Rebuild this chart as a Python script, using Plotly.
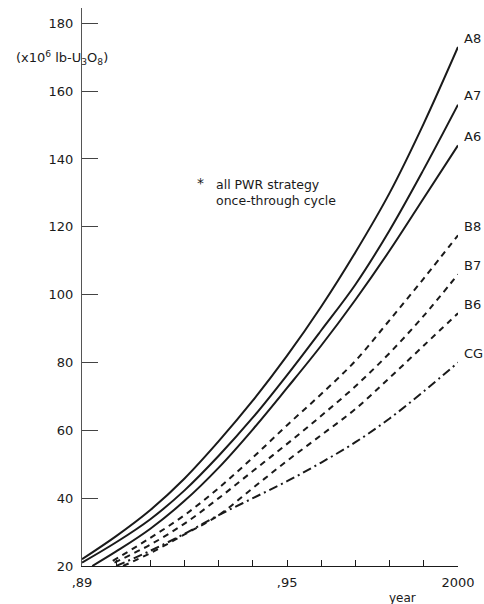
import plotly.graph_objects as go

# ---- data ----
years = [1989, 1990, 1991, 1992, 1993, 1994, 1995, 1996, 1997, 1998, 1999, 2000]

a8_x = [1989, 1990, 1991, 1992, 1993, 1994, 1995, 1996, 1997, 1998, 1999, 2000]
a8_y = [22, 28.8, 36.5, 45.8, 56.8, 68.8, 82, 96.5, 112.5, 130, 150.5, 173]

a7_x = [1989, 1990, 1991, 1992, 1993, 1994, 1995, 1996, 1997, 1998, 1999, 2000]
a7_y = [21, 27, 33.8, 42.3, 52.5, 63.8, 76.3, 89.5, 103, 119, 137, 156]

a6_x = [1989.3, 1990, 1991, 1992, 1993, 1994, 1995, 1996, 1997, 1998, 1999, 2000]
a6_y = [20, 24.3, 31, 39.2, 49, 60.3, 72.5, 85, 98.5, 113, 128.5, 144]

b8_x = [1989.9, 1991, 1992, 1993, 1994, 1995, 1996, 1997, 1998, 1999, 2000]
b8_y = [21.5, 28.3, 35, 43, 52, 61.5, 70.7, 80.5, 92.5, 104.8, 117.5]

b7_x = [1989.95, 1991, 1992, 1993, 1994, 1995, 1996, 1997, 1998, 1999, 2000]
b7_y = [21, 26.3, 32.5, 40, 48, 56, 64.3, 73, 82.8, 93.8, 106]

b6_x = [1990.2, 1991, 1992, 1993, 1994, 1995, 1996, 1997, 1998, 1999, 2000]
b6_y = [20, 23.8, 29.3, 35, 43, 51, 58.6, 66.3, 75.5, 85, 94.5]

cg_x = [1990, 1991, 1992, 1993, 1994, 1995, 1996, 1997, 1998, 1999, 2000]
cg_y = [20, 24.5, 29.5, 35, 40, 45, 50.5, 56.5, 63.5, 71.5, 80]

series_names = ["A8", "A7", "A6", "B8", "B7", "B6", "CG"]
series_x = [a8_x, a7_x, a6_x, b8_x, b7_x, b6_x, cg_x]
series_y = [a8_y, a7_y, a6_y, b8_y, b7_y, b6_y, cg_y]
series_dash = ["solid", "solid", "solid", "6px,5px", "6px,5px", "6px,5px", "9px,4px,2px,4px"]

y_ticks = [20, 40, 60, 80, 100, 120, 140, 160, 180]
x_ticktext = [",89", "", "", "", "", "", ",95", "", "", "", "", "2000"]

FONT = "DejaVu Sans"
INK = "#1a1a1a"

fig = go.Figure()
for name, xs, ys, dash in zip(series_names, series_x, series_y, series_dash):
    fig.add_trace(go.Scatter(
        x=xs, y=ys, mode="lines", name=name,
        line=dict(color=INK, width=2, dash=dash, shape="spline", smoothing=1.0),
        showlegend=False, hoverinfo="skip",
    ))
    fig.add_annotation(
        x=xs[-1], y=ys[-1], xref="x", yref="y", text=name,
        showarrow=False, xanchor="left", yanchor="middle",
        xshift=4, yshift=9, font=dict(family=FONT, size=13, color=INK),
    )

fig.add_annotation(
    x=-0.053, y=0.91, xref="paper", yref="paper",
    text="(x10<sup>6</sup> lb-U<sub>3</sub>O<sub>8</sub>)",
    showarrow=False, xanchor="center", yanchor="middle",
    font=dict(family=FONT, size=13, color=INK),
)
fig.add_annotation(
    x=0.315, y=0.686, xref="paper", yref="paper", text="*",
    showarrow=False, xanchor="center", yanchor="middle",
    font=dict(family=FONT, size=14, color=INK),
)
fig.add_annotation(
    x=0.352, y=0.670, xref="paper", yref="paper",
    text="all PWR strategy<br>once-through cycle", align="left",
    showarrow=False, xanchor="left", yanchor="middle",
    font=dict(family=FONT, size=12.5, color=INK),
)
fig.add_annotation(
    x=0.852, y=-0.057, xref="paper", yref="paper", text="year",
    showarrow=False, xanchor="center", yanchor="middle",
    font=dict(family=FONT, size=12, color=INK),
)

fig.update_xaxes(
    range=[1989, 2000], tickmode="array", tickvals=years, ticktext=x_ticktext,
    ticks="inside", ticklen=6, tickcolor=INK, tickwidth=1,
    showline=True, linecolor=INK, linewidth=1, showgrid=False, zeroline=False,
    tickfont=dict(family=FONT, size=13, color=INK), ticklabelstandoff=4,
)
fig.update_yaxes(
    range=[20, 184.5], tickmode="array", tickvals=y_ticks,
    ticks="inside", ticklen=16, tickcolor="#444", tickwidth=1,
    showline=True, linecolor="#555", linewidth=1, showgrid=False, zeroline=False,
    tickfont=dict(family=FONT, size=13, color=INK), ticklabelstandoff=5,
)
fig.update_layout(
    width=484, height=604,
    margin=dict(l=82, r=26, t=8, b=38),
    paper_bgcolor="white", plot_bgcolor="white",
)
# remove the browser's default 8px page margin so the figure fills the window exactly
fig.write_html(
    "out.html",
    config={"displayModeBar": False},
    post_script="document.body.style.margin='0';document.body.style.overflow='hidden';",
)
